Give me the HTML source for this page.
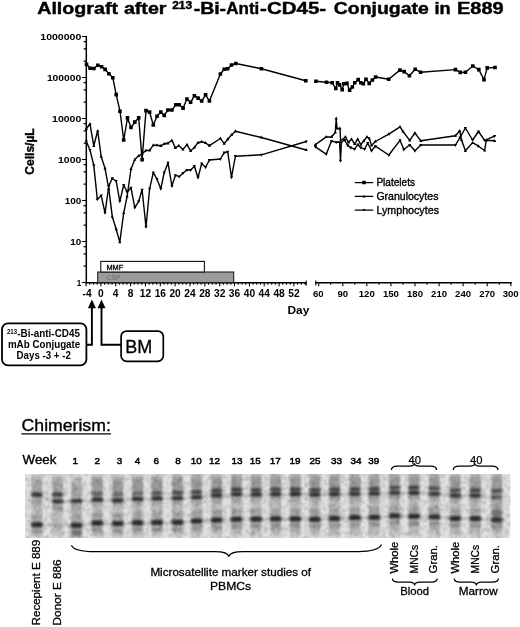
<!DOCTYPE html>
<html lang="en"><head><meta charset="utf-8"><title>Allograft after 213-Bi-Anti-CD45 Conjugate in E889</title>
<style>html,body{margin:0;padding:0;background:#fff}svg{display:block}text{font-family:"Liberation Sans",Arial,Helvetica,sans-serif;fill:#000}.b{font-weight:bold}</style></head><body>
<svg width="520" height="627" viewBox="0 0 520 627">
<rect width="520" height="627" fill="#fff"/>
<defs>
<filter id="bl" x="-20%" y="-60%" width="140%" height="220%"><feGaussianBlur stdDeviation="1.6 1.25"/></filter>
<filter id="bl2" x="-30%" y="-10%" width="160%" height="120%"><feGaussianBlur stdDeviation="1.3 2.5"/></filter>
<filter id="soft"><feGaussianBlur stdDeviation="0.35"/></filter>
<filter id="grain" x="0" y="0" width="100%" height="100%"><feTurbulence type="fractalNoise" baseFrequency="0.22" numOctaves="2" seed="7" result="n"/><feColorMatrix in="n" type="matrix" values="0 0 0 0 0  0 0 0 0 0  0 0 0 0 0  1.6 1.6 0 0 -1.35"/></filter>
<clipPath id="gelclip"><rect x="25" y="474" width="485.5" height="64"/></clipPath>
</defs>
<g class="b" font-size="17.4" stroke="#000" stroke-width="0.45" filter="url(#soft)">
<text x="37.2" y="14.2" textLength="80.8" lengthAdjust="spacingAndGlyphs">Allograft</text>
<text x="123.9" y="14.2" textLength="42.6" lengthAdjust="spacingAndGlyphs">after</text>
<text x="172.2" y="9.1" font-size="11.2" textLength="20" lengthAdjust="spacingAndGlyphs">213</text>
<text x="193.7" y="14.2" textLength="32.4" lengthAdjust="spacingAndGlyphs">-Bi-</text>
<text x="226.3" y="14.2" textLength="33" lengthAdjust="spacingAndGlyphs">Anti</text>
<text x="260.1" y="14.2" textLength="66" lengthAdjust="spacingAndGlyphs">-CD45-</text>
<text x="333.8" y="14.2" textLength="95" lengthAdjust="spacingAndGlyphs">Conjugate</text>
<text x="434.4" y="14.2" textLength="16.2" lengthAdjust="spacingAndGlyphs">in</text>
<text x="457" y="14.2" textLength="46.6" lengthAdjust="spacingAndGlyphs">E889</text>
</g>
<g id="chart" filter="url(#soft)">
<g stroke="#000" stroke-width="1.5" fill="none" stroke-linecap="butt">
<path d="M86.3 35.9V283.4"/>
<path d="M81.9 36.5H86.3M83.6 41.6H86.3M83.6 48.8H86.3M83.6 61.2H86.3M81.9 77.5H86.3M83.6 82.6H86.3M83.6 89.8H86.3M83.6 102.2H86.3M81.9 118.5H86.3M83.6 123.6H86.3M83.6 130.8H86.3M83.6 143.2H86.3M81.9 159.5H86.3M83.6 164.6H86.3M83.6 171.8H86.3M83.6 184.2H86.3M81.9 200.5H86.3M83.6 205.6H86.3M83.6 212.8H86.3M83.6 225.2H86.3M81.9 241.5H86.3M83.6 246.6H86.3M83.6 253.8H86.3M83.6 266.2H86.3M81.9 282.5H86.3" stroke-width="1.2"/>
<path d="M85.7 282.8H306.5"/>
<path d="M86.1 282.8v3.4M89.8 282.8v2.0M93.5 282.8v2.0M97.2 282.8v2.0M100.9 282.8v3.4M104.6 282.8v2.0M108.3 282.8v2.0M112.0 282.8v2.0M115.7 282.8v3.4M119.5 282.8v2.0M123.2 282.8v2.0M126.9 282.8v2.0M130.6 282.8v3.4M134.3 282.8v2.0M138.0 282.8v2.0M141.7 282.8v2.0M145.4 282.8v3.4M149.2 282.8v2.0M152.9 282.8v2.0M156.6 282.8v2.0M160.3 282.8v3.4M164.0 282.8v2.0M167.7 282.8v2.0M171.4 282.8v2.0M175.1 282.8v3.4M178.9 282.8v2.0M182.6 282.8v2.0M186.3 282.8v2.0M190.0 282.8v3.4M193.7 282.8v2.0M197.4 282.8v2.0M201.1 282.8v2.0M204.8 282.8v3.4M208.5 282.8v2.0M212.3 282.8v2.0M216.0 282.8v2.0M219.7 282.8v3.4M223.4 282.8v2.0M227.1 282.8v2.0M230.8 282.8v2.0M234.5 282.8v3.4M238.2 282.8v2.0M242.0 282.8v2.0M245.7 282.8v2.0M249.4 282.8v3.4M253.1 282.8v2.0M256.8 282.8v2.0M260.5 282.8v2.0M264.2 282.8v3.4M267.9 282.8v2.0M271.7 282.8v2.0M275.4 282.8v2.0M279.1 282.8v3.4M282.8 282.8v2.0M286.5 282.8v2.0M290.2 282.8v2.0M293.9 282.8v3.4M297.6 282.8v2.0M301.3 282.8v2.0M305.1 282.8v2.0M306.2 280.6v5" stroke-width="1.1"/>
<path d="M315.2 282.8H511.9"/>
<path d="M315.8 280.6v5M318.7 282.8v3.4M330.7 282.8v2.0M342.8 282.8v3.4M354.8 282.8v2.0M366.8 282.8v3.4M378.9 282.8v2.0M390.9 282.8v3.4M403.0 282.8v2.0M415.0 282.8v3.4M427.0 282.8v2.0M439.1 282.8v3.4M451.1 282.8v2.0M463.1 282.8v3.4M475.2 282.8v2.0M487.2 282.8v3.4M499.3 282.8v2.0M510.8 282.8v3.4" stroke-width="1.1"/>
</g>
<g class="b" font-size="9.9">
<text x="40.3" y="39.5" textLength="41.0" lengthAdjust="spacingAndGlyphs">1000000</text>
<text x="46.9" y="80.5" textLength="34.4" lengthAdjust="spacingAndGlyphs">100000</text>
<text x="52.1" y="121.5" textLength="29.2" lengthAdjust="spacingAndGlyphs">10000</text>
<text x="58.0" y="162.5" textLength="23.3" lengthAdjust="spacingAndGlyphs">1000</text>
<text x="64.7" y="203.5" textLength="16.6" lengthAdjust="spacingAndGlyphs">100</text>
<text x="70.3" y="244.5" textLength="11.0" lengthAdjust="spacingAndGlyphs">10</text>
<text x="76.7" y="285.5" textLength="4.6" lengthAdjust="spacingAndGlyphs">1</text>
</g>
<g class="b" font-size="10.2" text-anchor="middle">
<text x="87.1" y="296.5">-4</text>
<text x="100.9" y="296.5">0</text>
<text x="115.7" y="296.5">4</text>
<text x="130.6" y="296.5">8</text>
<text x="145.4" y="296.5">12</text>
<text x="160.3" y="296.5">16</text>
<text x="175.1" y="296.5">20</text>
<text x="190.0" y="296.5">24</text>
<text x="204.8" y="296.5">28</text>
<text x="219.7" y="296.5">32</text>
<text x="234.5" y="296.5">36</text>
<text x="249.4" y="296.5">40</text>
<text x="264.2" y="296.5">44</text>
<text x="279.1" y="296.5">48</text>
<text x="293.9" y="296.5">52</text>
</g>
<g class="b" font-size="9.6" text-anchor="middle">
<text x="318.3" y="296.5">60</text>
<text x="342.8" y="296.5">90</text>
<text x="366.8" y="296.5">120</text>
<text x="390.9" y="296.5">150</text>
<text x="415.0" y="296.5">180</text>
<text x="439.1" y="296.5">210</text>
<text x="463.1" y="296.5">240</text>
<text x="487.2" y="296.5">270</text>
<text x="510.7" y="296.5">300</text>
</g>
<text class="b" x="287.5" y="314.3" font-size="11.8" textLength="21.8" lengthAdjust="spacingAndGlyphs">Day</text>
<text class="b" font-size="12" text-anchor="middle" transform="translate(34.4 151.5) rotate(-90)" stroke="#000" stroke-width="0.35">Cells/µL</text>
<rect x="97.7" y="272" width="136" height="10.6" fill="#9b9b9b" stroke="#222" stroke-width="1.1"/>
<rect x="100.8" y="261.4" width="103.6" height="10.6" fill="#fff" stroke="#111" stroke-width="1.1"/>
<text x="106.4" y="269.6" font-size="7" textLength="16.8" lengthAdjust="spacingAndGlyphs" stroke="#000" stroke-width="0.3">MMF</text>
<text x="106.4" y="280" font-size="7" style="fill:#6c6c6c" textLength="14.4" lengthAdjust="spacingAndGlyphs">CSP</text>
<g fill="none" stroke="#000" stroke-width="1.4" stroke-linejoin="round" stroke-linecap="round">
<polyline points="86.5,64.2 90.1,68.3 93.9,68.5 97.8,65.2 101.6,66.8 105.1,69.4 108.9,73.8 112.8,77.7 116.2,94.6 120.0,111.2 123.7,140.0 127.5,117.9 131.0,127.5 134.8,122.1 138.7,117.9 142.1,159.6 146.0,110.6 149.6,112.1 153.3,125.0 157.0,116.3 160.8,112.0 164.2,115.4 167.9,110.0 171.9,110.0 175.8,104.8 179.2,104.8 183.1,108.1 186.9,99.0 190.6,102.3 194.4,95.8 198.1,98.1 201.7,101.0 205.6,94.8 209.4,101.0 220.4,74.0 224.2,69.2 227.7,68.8 231.5,65.0 235.8,63.5 261.4,68.7 305.8,80.8"/>
<polyline points="315.9,81.3 326.5,82.2 332.2,82.8 335.8,88.5 337.5,82.8 339.6,84.9 342.2,89.8 343.8,83.8 347.0,83.4 349.6,90.2 352.3,87.0 354.8,82.8 358.2,79.6 360.8,82.8 363.3,83.8 366.0,79.2 369.2,83.4 372.4,80.0 375.6,77.0 388.7,79.2 399.9,70.1 404.1,71.6 409.4,75.8 415.2,69.3 420.6,72.2 455.5,69.6 460.3,72.4 465.4,72.2 472.8,66.0 478.8,69.6 484.0,79.6 487.2,67.9 495.0,67.5"/>
<polyline points="86.3,128.8 90.0,124.0 93.8,145.8 97.7,130.8 101.2,156.7 105.0,168.3 108.8,188.8 112.3,216.7 116.2,229.2 119.8,242.1 123.7,212.9 127.1,196.5 131.0,169.0 134.8,159.6 138.7,155.8 142.1,153.8 146.0,150.4 149.6,150.4 153.3,145.2 157.0,145.2 160.8,145.8 164.2,143.8 167.9,143.3 171.9,140.4 175.4,148.0 178.7,145.6 183.0,149.4 187.0,144.6 190.6,150.8 194.4,147.5 198.0,142.7 201.7,141.7 205.6,143.0 209.4,145.6 220.4,138.5 224.2,143.7 227.7,139.2 231.5,135.0 235.4,131.2 261.4,137.5 306.2,150.0"/>
<polyline points="315.4,144.6 326.2,136.9 331.5,137.0 335.3,132.3 336.2,118.5 337.0,128.5 340.0,128.5 340.6,141.0 345.4,137.0 348.5,142.3 351.5,139.2 354.6,143.8 357.7,139.2 360.8,144.6 363.8,140.8 367.0,137.0 369.2,138.5 371.5,145.4 375.4,141.5 388.8,134.2 400.0,126.9 403.0,131.5 409.7,140.3 414.9,133.0 420.8,140.8 455.4,135.7 459.7,130.8 461.5,140.0 465.4,150.8 472.6,142.6 478.5,146.2 484.6,150.5 486.2,140.3 494.6,140.8"/>
<polyline points="86.3,141.3 90.0,150.0 93.8,165.4 97.3,199.4 101.2,195.6 105.0,212.9 108.8,186.0 112.3,178.3 116.2,181.2 119.8,201.3 123.7,185.0 127.1,192.0 131.0,187.9 134.8,207.7 138.7,201.3 142.1,189.8 146.0,226.9 149.6,188.8 153.3,172.5 157.0,179.2 160.8,188.8 164.2,172.5 168.0,162.9 171.9,186.0 175.4,175.4 179.2,176.7 183.0,173.0 187.0,170.0 190.6,170.0 194.4,166.2 198.0,177.7 201.7,163.5 205.6,167.3 209.4,160.0 220.4,159.0 224.2,152.7 227.7,151.9 231.5,177.3 235.4,156.2 261.4,154.8 306.2,141.5"/>
<polyline points="315.4,146.8 326.2,154.2 331.5,141.0 336.2,142.3 339.6,142.0 340.5,160.8 341.4,142.3 344.6,140.0 347.7,145.4 350.8,147.7 354.6,149.2 357.7,144.6 360.8,147.7 364.6,149.2 367.7,143.0 371.5,150.8 375.4,146.2 388.8,155.0 400.0,140.3 403.8,149.5 409.7,145.0 414.9,150.8 420.8,145.0 455.4,145.0 460.0,137.7 465.4,128.0 472.6,140.0 478.5,131.5 484.6,140.3 494.6,136.2"/>
</g>
<path d="M84.7 62.4h3.6v3.6h-3.6zM88.3 66.5h3.6v3.6h-3.6zM92.1 66.7h3.6v3.6h-3.6zM96.0 63.4h3.6v3.6h-3.6zM99.8 65.0h3.6v3.6h-3.6zM103.3 67.6h3.6v3.6h-3.6zM107.1 72.0h3.6v3.6h-3.6zM111.0 75.9h3.6v3.6h-3.6zM114.4 92.8h3.6v3.6h-3.6zM118.2 109.4h3.6v3.6h-3.6zM121.9 138.2h3.6v3.6h-3.6zM125.7 116.1h3.6v3.6h-3.6zM129.2 125.7h3.6v3.6h-3.6zM133.0 120.3h3.6v3.6h-3.6zM136.9 116.1h3.6v3.6h-3.6zM140.3 157.8h3.6v3.6h-3.6zM144.2 108.8h3.6v3.6h-3.6zM147.8 110.3h3.6v3.6h-3.6zM151.5 123.2h3.6v3.6h-3.6zM155.2 114.5h3.6v3.6h-3.6zM159.0 110.2h3.6v3.6h-3.6zM162.4 113.6h3.6v3.6h-3.6zM166.1 108.2h3.6v3.6h-3.6zM170.1 108.2h3.6v3.6h-3.6zM174.0 103.0h3.6v3.6h-3.6zM177.4 103.0h3.6v3.6h-3.6zM181.3 106.3h3.6v3.6h-3.6zM185.1 97.2h3.6v3.6h-3.6zM188.8 100.5h3.6v3.6h-3.6zM192.6 94.0h3.6v3.6h-3.6zM196.3 96.3h3.6v3.6h-3.6zM199.9 99.2h3.6v3.6h-3.6zM203.8 93.0h3.6v3.6h-3.6zM207.6 99.2h3.6v3.6h-3.6zM218.6 72.2h3.6v3.6h-3.6zM222.4 67.4h3.6v3.6h-3.6zM225.9 67.0h3.6v3.6h-3.6zM229.7 63.2h3.6v3.6h-3.6zM234.0 61.7h3.6v3.6h-3.6zM259.6 66.9h3.6v3.6h-3.6zM304.0 79.0h3.6v3.6h-3.6zM314.1 79.5h3.6v3.6h-3.6zM324.7 80.4h3.6v3.6h-3.6zM330.4 81.0h3.6v3.6h-3.6zM334.0 86.7h3.6v3.6h-3.6zM335.7 81.0h3.6v3.6h-3.6zM337.8 83.1h3.6v3.6h-3.6zM340.4 88.0h3.6v3.6h-3.6zM342.0 82.0h3.6v3.6h-3.6zM345.2 81.6h3.6v3.6h-3.6zM347.8 88.4h3.6v3.6h-3.6zM350.5 85.2h3.6v3.6h-3.6zM353.0 81.0h3.6v3.6h-3.6zM356.4 77.8h3.6v3.6h-3.6zM359.0 81.0h3.6v3.6h-3.6zM361.5 82.0h3.6v3.6h-3.6zM364.2 77.4h3.6v3.6h-3.6zM367.4 81.6h3.6v3.6h-3.6zM370.6 78.2h3.6v3.6h-3.6zM373.8 75.2h3.6v3.6h-3.6zM386.9 77.4h3.6v3.6h-3.6zM398.1 68.3h3.6v3.6h-3.6zM402.3 69.8h3.6v3.6h-3.6zM407.6 74.0h3.6v3.6h-3.6zM413.4 67.5h3.6v3.6h-3.6zM418.8 70.4h3.6v3.6h-3.6zM453.7 67.8h3.6v3.6h-3.6zM458.5 70.6h3.6v3.6h-3.6zM463.6 70.4h3.6v3.6h-3.6zM471.0 64.2h3.6v3.6h-3.6zM477.0 67.8h3.6v3.6h-3.6zM482.2 77.8h3.6v3.6h-3.6zM485.4 66.1h3.6v3.6h-3.6zM493.2 65.7h3.6v3.6h-3.6z" fill="#000"/>
<path d="M86.3 126.9l1.6 3.0h-3.2zM90.0 122.1l1.6 3.0h-3.2zM93.8 143.9l1.6 3.0h-3.2zM97.7 128.9l1.6 3.0h-3.2zM101.2 154.8l1.6 3.0h-3.2zM105.0 166.4l1.6 3.0h-3.2zM108.8 186.9l1.6 3.0h-3.2zM112.3 214.8l1.6 3.0h-3.2zM116.2 227.3l1.6 3.0h-3.2zM119.8 240.2l1.6 3.0h-3.2zM123.7 211.0l1.6 3.0h-3.2zM127.1 194.6l1.6 3.0h-3.2zM131.0 167.1l1.6 3.0h-3.2zM134.8 157.7l1.6 3.0h-3.2zM138.7 153.9l1.6 3.0h-3.2zM142.1 151.9l1.6 3.0h-3.2zM146.0 148.5l1.6 3.0h-3.2zM149.6 148.5l1.6 3.0h-3.2zM153.3 143.3l1.6 3.0h-3.2zM157.0 143.3l1.6 3.0h-3.2zM160.8 143.9l1.6 3.0h-3.2zM164.2 141.9l1.6 3.0h-3.2zM167.9 141.4l1.6 3.0h-3.2zM171.9 138.5l1.6 3.0h-3.2zM175.4 146.1l1.6 3.0h-3.2zM178.7 143.7l1.6 3.0h-3.2zM183.0 147.5l1.6 3.0h-3.2zM187.0 142.7l1.6 3.0h-3.2zM190.6 148.9l1.6 3.0h-3.2zM194.4 145.6l1.6 3.0h-3.2zM198.0 140.8l1.6 3.0h-3.2zM201.7 139.8l1.6 3.0h-3.2zM205.6 141.1l1.6 3.0h-3.2zM209.4 143.7l1.6 3.0h-3.2zM220.4 136.6l1.6 3.0h-3.2zM224.2 141.8l1.6 3.0h-3.2zM227.7 137.3l1.6 3.0h-3.2zM231.5 133.1l1.6 3.0h-3.2zM235.4 129.3l1.6 3.0h-3.2zM261.4 135.6l1.6 3.0h-3.2zM306.2 148.1l1.6 3.0h-3.2zM315.4 142.7l1.6 3.0h-3.2zM326.2 135.0l1.6 3.0h-3.2zM331.5 135.1l1.6 3.0h-3.2zM335.3 130.4l1.6 3.0h-3.2zM336.2 116.6l1.6 3.0h-3.2zM337.0 126.6l1.6 3.0h-3.2zM340.0 126.6l1.6 3.0h-3.2zM340.6 139.1l1.6 3.0h-3.2zM345.4 135.1l1.6 3.0h-3.2zM348.5 140.4l1.6 3.0h-3.2zM351.5 137.3l1.6 3.0h-3.2zM354.6 141.9l1.6 3.0h-3.2zM357.7 137.3l1.6 3.0h-3.2zM360.8 142.7l1.6 3.0h-3.2zM363.8 138.9l1.6 3.0h-3.2zM367.0 135.1l1.6 3.0h-3.2zM369.2 136.6l1.6 3.0h-3.2zM371.5 143.5l1.6 3.0h-3.2zM375.4 139.6l1.6 3.0h-3.2zM388.8 132.3l1.6 3.0h-3.2zM400.0 125.0l1.6 3.0h-3.2zM403.0 129.6l1.6 3.0h-3.2zM409.7 138.4l1.6 3.0h-3.2zM414.9 131.1l1.6 3.0h-3.2zM420.8 138.9l1.6 3.0h-3.2zM455.4 133.8l1.6 3.0h-3.2zM459.7 128.9l1.6 3.0h-3.2zM461.5 138.1l1.6 3.0h-3.2zM465.4 148.9l1.6 3.0h-3.2zM472.6 140.7l1.6 3.0h-3.2zM478.5 144.3l1.6 3.0h-3.2zM484.6 148.6l1.6 3.0h-3.2zM486.2 138.4l1.6 3.0h-3.2zM494.6 138.9l1.6 3.0h-3.2zM86.3 143.2l1.6 -3.0h-3.2zM90.0 151.9l1.6 -3.0h-3.2zM93.8 167.3l1.6 -3.0h-3.2zM97.3 201.3l1.6 -3.0h-3.2zM101.2 197.5l1.6 -3.0h-3.2zM105.0 214.8l1.6 -3.0h-3.2zM108.8 187.9l1.6 -3.0h-3.2zM112.3 180.2l1.6 -3.0h-3.2zM116.2 183.1l1.6 -3.0h-3.2zM119.8 203.2l1.6 -3.0h-3.2zM123.7 186.9l1.6 -3.0h-3.2zM127.1 193.9l1.6 -3.0h-3.2zM131.0 189.8l1.6 -3.0h-3.2zM134.8 209.6l1.6 -3.0h-3.2zM138.7 203.2l1.6 -3.0h-3.2zM142.1 191.7l1.6 -3.0h-3.2zM146.0 228.8l1.6 -3.0h-3.2zM149.6 190.7l1.6 -3.0h-3.2zM153.3 174.4l1.6 -3.0h-3.2zM157.0 181.1l1.6 -3.0h-3.2zM160.8 190.7l1.6 -3.0h-3.2zM164.2 174.4l1.6 -3.0h-3.2zM168.0 164.8l1.6 -3.0h-3.2zM171.9 187.9l1.6 -3.0h-3.2zM175.4 177.3l1.6 -3.0h-3.2zM179.2 178.6l1.6 -3.0h-3.2zM183.0 174.9l1.6 -3.0h-3.2zM187.0 171.9l1.6 -3.0h-3.2zM190.6 171.9l1.6 -3.0h-3.2zM194.4 168.1l1.6 -3.0h-3.2zM198.0 179.6l1.6 -3.0h-3.2zM201.7 165.4l1.6 -3.0h-3.2zM205.6 169.2l1.6 -3.0h-3.2zM209.4 161.9l1.6 -3.0h-3.2zM220.4 160.9l1.6 -3.0h-3.2zM224.2 154.6l1.6 -3.0h-3.2zM227.7 153.8l1.6 -3.0h-3.2zM231.5 179.2l1.6 -3.0h-3.2zM235.4 158.1l1.6 -3.0h-3.2zM261.4 156.7l1.6 -3.0h-3.2zM306.2 143.4l1.6 -3.0h-3.2zM315.4 148.7l1.6 -3.0h-3.2zM326.2 156.1l1.6 -3.0h-3.2zM331.5 142.9l1.6 -3.0h-3.2zM336.2 144.2l1.6 -3.0h-3.2zM339.6 143.9l1.6 -3.0h-3.2zM340.5 162.7l1.6 -3.0h-3.2zM341.4 144.2l1.6 -3.0h-3.2zM344.6 141.9l1.6 -3.0h-3.2zM347.7 147.3l1.6 -3.0h-3.2zM350.8 149.6l1.6 -3.0h-3.2zM354.6 151.1l1.6 -3.0h-3.2zM357.7 146.5l1.6 -3.0h-3.2zM360.8 149.6l1.6 -3.0h-3.2zM364.6 151.1l1.6 -3.0h-3.2zM367.7 144.9l1.6 -3.0h-3.2zM371.5 152.7l1.6 -3.0h-3.2zM375.4 148.1l1.6 -3.0h-3.2zM388.8 156.9l1.6 -3.0h-3.2zM400.0 142.2l1.6 -3.0h-3.2zM403.8 151.4l1.6 -3.0h-3.2zM409.7 146.9l1.6 -3.0h-3.2zM414.9 152.7l1.6 -3.0h-3.2zM420.8 146.9l1.6 -3.0h-3.2zM455.4 146.9l1.6 -3.0h-3.2zM460.0 139.6l1.6 -3.0h-3.2zM465.4 129.9l1.6 -3.0h-3.2zM472.6 141.9l1.6 -3.0h-3.2zM478.5 133.4l1.6 -3.0h-3.2zM484.6 142.2l1.6 -3.0h-3.2zM494.6 138.1l1.6 -3.0h-3.2z" fill="#000"/>
<g stroke="#000" stroke-width="1.25"><path d="M354.8 182.5h18.4M354.8 196.4h18.4M354.8 210h18.4"/></g>
<path d="M362.3 180.8h3.4v3.4h-3.4zM364 194.8l1.5 2.7h-3zM364 211.6l1.5 -2.7h-3z" fill="#000"/>
<text x="376.4" y="186" font-size="10.4" textLength="38.6" lengthAdjust="spacingAndGlyphs" stroke="#000" stroke-width="0.35">Platelets</text>
<text x="376.4" y="199.9" font-size="10.4" textLength="62" lengthAdjust="spacingAndGlyphs" stroke="#000" stroke-width="0.35">Granulocytes</text>
<text x="376.4" y="213.5" font-size="10.4" textLength="62.6" lengthAdjust="spacingAndGlyphs" stroke="#000" stroke-width="0.35">Lymphocytes</text>
<rect x="2" y="323.3" width="84.4" height="42" rx="6" ry="6" fill="#fff" stroke="#000" stroke-width="1.8"/>
<g class="b" font-size="10.3">
<text x="7" y="334.2" font-size="7.2" textLength="10" lengthAdjust="spacingAndGlyphs">213</text>
<text x="17.3" y="337.2" textLength="62.6" lengthAdjust="spacingAndGlyphs">-Bi-anti-CD45</text>
<text x="7.9" y="347.8" textLength="72.4" lengthAdjust="spacingAndGlyphs">mAb Conjugate</text>
<text x="16.6" y="358.8" textLength="54.2" lengthAdjust="spacingAndGlyphs">Days -3 + -2</text>
</g>
<g stroke="#000" stroke-width="1.9" fill="none" stroke-linejoin="miter"><path d="M86.5 344.8H91.9V306"/><path d="M121.2 344.8H101.5V306"/></g>
<path d="M91.9 299.4l4 8.8h-8zM101.5 299.4l4 8.8h-8z" fill="#000"/>
<rect x="121.1" y="331.1" width="42.2" height="30.2" rx="5.5" ry="5.5" fill="#fff" stroke="#000" stroke-width="1.7"/>
<text x="125.2" y="353" font-size="17.6" textLength="27" lengthAdjust="spacingAndGlyphs" stroke="#000" stroke-width="0.3">BM</text>
</g>
<g id="chim" filter="url(#soft)">
<text x="21.6" y="430.9" font-size="16.4" textLength="89.2" lengthAdjust="spacingAndGlyphs" stroke="#000" stroke-width="0.35">Chimerism:</text>
<path d="M21.4 433.9H111" stroke="#000" stroke-width="1.3"/>
<text x="22.6" y="463.6" font-size="12.2" textLength="33.8" lengthAdjust="spacingAndGlyphs" stroke="#000" stroke-width="0.35">Week</text>
<g font-size="9.9" text-anchor="middle" stroke="#000" stroke-width="0.5">
<text x="75.3" y="463.8">1</text>
<text x="97.2" y="463.8">2</text>
<text x="119.6" y="463.8">3</text>
<text x="137.5" y="463.8">4</text>
<text x="156.2" y="463.8">6</text>
<text x="178.0" y="463.8">8</text>
<text x="196.2" y="463.8">10</text>
<text x="214.6" y="463.8">12</text>
<text x="237.0" y="463.8">13</text>
<text x="255.3" y="463.8">15</text>
<text x="275.3" y="463.8">17</text>
<text x="295.0" y="463.8">19</text>
<text x="315.0" y="463.8">25</text>
<text x="336.5" y="463.8">33</text>
<text x="356.0" y="463.8">34</text>
<text x="373.8" y="463.8">39</text>
</g>
<text x="414.7" y="463.8" font-size="11.2" text-anchor="middle" stroke="#000" stroke-width="0.25">40</text>
<text x="476.2" y="463.8" font-size="11.2" text-anchor="middle" stroke="#000" stroke-width="0.25">40</text>
<g fill="none" stroke="#000" stroke-width="1.25">
<path d="M391.4 470.0C391.4 467.2 393.4 466.0 397.4 466.0H409.5C412.5 466.0 414.5 464.6 414.5 463.2C414.5 464.6 416.5 466.0 419.5 466.0H430.6C434.6 466.0 436.6 467.2 436.6 470.0"/>
<path d="M453.2 470.0C453.2 467.2 455.2 466.0 459.2 466.0H469.8C472.8 466.0 474.8 464.6 474.8 463.2C474.8 464.6 476.8 466.0 479.8 466.0H492.0C496.0 466.0 498.0 467.2 498.0 470.0"/>
<path d="M71.4 545.2C73 549 80 551.6 95 551.6H215C223 551.6 228 553 228.8 556.6C229.6 553 234 551.6 243 551.6H358C372 551.6 379.5 549 381.6 544.6"/>
<path d="M392.4 578.4C392.4 580.9 394.4 582.0 398.4 582.0H409.6C412.6 582.0 414.6 583.7 414.6 585.4C414.6 583.7 416.6 582.0 419.6 582.0H431.2C435.2 582.0 437.2 580.9 437.2 578.4"/>
<path d="M454.2 578.4C454.2 580.9 456.2 582.0 460.2 582.0H471.4C474.4 582.0 476.4 583.7 476.4 585.4C476.4 583.7 478.4 582.0 481.4 582.0H492.4C496.4 582.0 498.4 580.9 498.4 578.4"/>
</g>
<g clip-path="url(#gelclip)">
<rect x="25" y="474" width="485.5" height="64" fill="#e0e0e0"/>
<g filter="url(#bl2)" fill="#000">
<rect x="31.5" y="476" width="10.8" height="60" opacity="0.15"/>
<rect x="31.5" y="477.7" width="10.8" height="28" opacity="0.13"/>
<rect x="31.5" y="515.8" width="10.8" height="20" opacity="0.12"/>
<rect x="52.2" y="476" width="10.8" height="60" opacity="0.15"/>
<rect x="52.2" y="477.5" width="10.8" height="28" opacity="0.13"/>
<rect x="71.1" y="476" width="10.8" height="60" opacity="0.15"/>
<rect x="71.1" y="483.8" width="10.8" height="28" opacity="0.13"/>
<rect x="71.1" y="516.2" width="10.8" height="20" opacity="0.12"/>
<rect x="71.1" y="524.5" width="10.8" height="20" opacity="0.12"/>
<rect x="91.8" y="476" width="10.8" height="60" opacity="0.15"/>
<rect x="91.8" y="476.7" width="10.8" height="28" opacity="0.18"/>
<rect x="91.8" y="514.1" width="10.8" height="20" opacity="0.12"/>
<rect x="112.3" y="476" width="10.8" height="60" opacity="0.15"/>
<rect x="112.3" y="477.1" width="10.8" height="28" opacity="0.18"/>
<rect x="112.3" y="514.5" width="10.8" height="20" opacity="0.12"/>
<rect x="132.2" y="476" width="10.8" height="60" opacity="0.15"/>
<rect x="132.2" y="476.4" width="10.8" height="28" opacity="0.18"/>
<rect x="132.2" y="513.7" width="10.8" height="20" opacity="0.12"/>
<rect x="151.5" y="476" width="10.8" height="60" opacity="0.15"/>
<rect x="151.5" y="476.2" width="10.8" height="28" opacity="0.18"/>
<rect x="151.5" y="513.5" width="10.8" height="20" opacity="0.12"/>
<rect x="172.1" y="476" width="10.8" height="60" opacity="0.15"/>
<rect x="172.1" y="475.7" width="10.8" height="28" opacity="0.18"/>
<rect x="172.1" y="513.3" width="10.8" height="20" opacity="0.12"/>
<rect x="191.2" y="476" width="10.8" height="60" opacity="0.15"/>
<rect x="191.2" y="475.1" width="10.8" height="28" opacity="0.18"/>
<rect x="191.2" y="512.1" width="10.8" height="20" opacity="0.12"/>
<rect x="211.3" y="476" width="10.8" height="60" opacity="0.15"/>
<rect x="211.3" y="473.7" width="10.8" height="28" opacity="0.18"/>
<rect x="211.3" y="510.9" width="10.8" height="20" opacity="0.12"/>
<rect x="231.1" y="476" width="10.8" height="60" opacity="0.15"/>
<rect x="231.1" y="472.4" width="10.8" height="28" opacity="0.18"/>
<rect x="231.1" y="510.2" width="10.8" height="20" opacity="0.12"/>
<rect x="250.7" y="476" width="10.8" height="60" opacity="0.15"/>
<rect x="250.7" y="472.8" width="10.8" height="28" opacity="0.18"/>
<rect x="250.7" y="510.1" width="10.8" height="20" opacity="0.12"/>
<rect x="270.3" y="476" width="10.8" height="60" opacity="0.15"/>
<rect x="270.3" y="472.3" width="10.8" height="28" opacity="0.18"/>
<rect x="270.3" y="509.8" width="10.8" height="20" opacity="0.12"/>
<rect x="289.9" y="476" width="10.8" height="60" opacity="0.15"/>
<rect x="289.9" y="472.3" width="10.8" height="28" opacity="0.18"/>
<rect x="289.9" y="509.8" width="10.8" height="20" opacity="0.12"/>
<rect x="309.5" y="476" width="10.8" height="60" opacity="0.15"/>
<rect x="309.5" y="472.8" width="10.8" height="28" opacity="0.18"/>
<rect x="309.5" y="510.2" width="10.8" height="20" opacity="0.12"/>
<rect x="329.1" y="476" width="10.8" height="60" opacity="0.15"/>
<rect x="329.1" y="472.3" width="10.8" height="28" opacity="0.18"/>
<rect x="329.1" y="509.4" width="10.8" height="20" opacity="0.12"/>
<rect x="349.4" y="476" width="10.8" height="60" opacity="0.15"/>
<rect x="349.4" y="472.1" width="10.8" height="28" opacity="0.18"/>
<rect x="349.4" y="508.5" width="10.8" height="20" opacity="0.12"/>
<rect x="368.8" y="476" width="10.8" height="60" opacity="0.15"/>
<rect x="368.8" y="471.8" width="10.8" height="28" opacity="0.18"/>
<rect x="368.8" y="508.3" width="10.8" height="20" opacity="0.12"/>
<rect x="389.2" y="476" width="10.8" height="60" opacity="0.15"/>
<rect x="389.2" y="470.6" width="10.8" height="28" opacity="0.18"/>
<rect x="389.2" y="506.8" width="10.8" height="20" opacity="0.12"/>
<rect x="408.6" y="476" width="10.8" height="60" opacity="0.15"/>
<rect x="408.6" y="470.6" width="10.8" height="28" opacity="0.18"/>
<rect x="408.6" y="507.2" width="10.8" height="20" opacity="0.12"/>
<rect x="429.0" y="476" width="10.8" height="60" opacity="0.15"/>
<rect x="429.0" y="471.3" width="10.8" height="28" opacity="0.18"/>
<rect x="429.0" y="507.8" width="10.8" height="20" opacity="0.12"/>
<rect x="449.8" y="476" width="10.8" height="60" opacity="0.15"/>
<rect x="449.8" y="473.3" width="10.8" height="28" opacity="0.18"/>
<rect x="449.8" y="509.4" width="10.8" height="20" opacity="0.12"/>
<rect x="469.9" y="476" width="10.8" height="60" opacity="0.15"/>
<rect x="469.9" y="473.3" width="10.8" height="28" opacity="0.18"/>
<rect x="469.9" y="509.4" width="10.8" height="20" opacity="0.12"/>
<rect x="491.4" y="476" width="10.8" height="60" opacity="0.15"/>
<rect x="491.4" y="474.0" width="10.8" height="28" opacity="0.18"/>
<rect x="491.4" y="510.8" width="10.8" height="20" opacity="0.12"/>
<rect x="491.4" y="503.2" width="10.8" height="20" opacity="0.12"/>
</g>
<g filter="url(#bl)" fill="#000" opacity="0.15">
<path d="M36.9 495.7L57.6 501.9L76.5 501.3L97.2 500.1L117.7 500.8L137.6 499.3L156.9 498.8L177.5 498.6L196.6 497.6L216.7 496.0L236.5 494.7L256.1 495.0L275.7 494.5L295.3 494.5L314.9 495.0L334.5 494.4L354.8 494.2L374.2 493.9L394.6 493.2L414.0 493.2L434.4 494.3L455.2 496.0L475.3 496.0L496.8 497.7" stroke="#000" stroke-width="2.4" fill="none"/>
<path d="M36.9 524.8L76.5 525.7L97.2 523.6L117.7 524.0L137.6 523.2L156.9 523.0L177.5 522.8L196.6 521.6L216.7 520.4L236.5 519.7L256.1 519.6L275.7 519.3L295.3 519.3L314.9 519.7L334.5 518.9L354.8 518.0L374.2 517.8L394.6 516.3L414.0 516.7L434.4 517.3L455.2 518.9L475.3 518.9L496.8 520.3" stroke="#000" stroke-width="2.4" fill="none"/>
</g>
<g filter="url(#bl)" fill="#000" opacity="0.78">
<rect x="31.5" y="492.8" width="10.8" height="3.9" rx="1.4" opacity="0.85"/>
<rect x="31.1" y="522.3" width="11.6" height="5" rx="1.8" opacity="0.90"/>
<rect x="31.9" y="530.3" width="10" height="3" rx="1.4" opacity="0.18"/>
<rect x="31.9" y="514.8" width="10" height="3" rx="1.4" opacity="0.13"/>
<rect x="52.2" y="492.6" width="10.8" height="3.9" rx="1.4" opacity="0.80"/>
<rect x="52.2" y="499.4" width="10.8" height="3.9" rx="1.4" opacity="0.85"/>
<rect x="52.2" y="506.6" width="10.8" height="3.9" rx="1.4" opacity="0.25"/>
<rect x="71.1" y="498.9" width="10.8" height="3.9" rx="1.4" opacity="0.80"/>
<rect x="70.7" y="522.7" width="11.6" height="5" rx="1.8" opacity="0.85"/>
<rect x="71.5" y="530.7" width="10" height="3" rx="1.4" opacity="0.18"/>
<rect x="71.5" y="515.2" width="10" height="3" rx="1.4" opacity="0.13"/>
<rect x="70.7" y="531.0" width="11.6" height="5" rx="1.8" opacity="0.20"/>
<rect x="91.8" y="491.8" width="10.8" height="3.9" rx="1.4" opacity="0.45"/>
<rect x="91.8" y="497.7" width="10.8" height="3.9" rx="1.4" opacity="0.85"/>
<rect x="91.4" y="520.6" width="11.6" height="5" rx="1.8" opacity="0.95"/>
<rect x="92.2" y="528.6" width="10" height="3" rx="1.4" opacity="0.18"/>
<rect x="92.2" y="513.1" width="10" height="3" rx="1.4" opacity="0.13"/>
<rect x="112.3" y="492.2" width="10.8" height="3.9" rx="1.4" opacity="0.40"/>
<rect x="112.3" y="498.4" width="10.8" height="3.9" rx="1.4" opacity="0.85"/>
<rect x="111.9" y="521.0" width="11.6" height="5" rx="1.8" opacity="0.90"/>
<rect x="112.7" y="529.0" width="10" height="3" rx="1.4" opacity="0.18"/>
<rect x="112.7" y="513.5" width="10" height="3" rx="1.4" opacity="0.13"/>
<rect x="132.2" y="491.4" width="10.8" height="3.9" rx="1.4" opacity="0.40"/>
<rect x="132.2" y="496.9" width="10.8" height="3.9" rx="1.4" opacity="0.85"/>
<rect x="131.8" y="520.2" width="11.6" height="5" rx="1.8" opacity="0.90"/>
<rect x="132.6" y="528.2" width="10" height="3" rx="1.4" opacity="0.18"/>
<rect x="132.6" y="512.7" width="10" height="3" rx="1.4" opacity="0.13"/>
<rect x="151.5" y="491.2" width="10.8" height="3.9" rx="1.4" opacity="0.60"/>
<rect x="151.5" y="496.4" width="10.8" height="3.9" rx="1.4" opacity="0.80"/>
<rect x="151.1" y="520.0" width="11.6" height="5" rx="1.8" opacity="0.90"/>
<rect x="151.9" y="528.0" width="10" height="3" rx="1.4" opacity="0.18"/>
<rect x="151.9" y="512.5" width="10" height="3" rx="1.4" opacity="0.13"/>
<rect x="172.1" y="490.8" width="10.8" height="3.9" rx="1.4" opacity="0.65"/>
<rect x="172.1" y="496.2" width="10.8" height="3.9" rx="1.4" opacity="0.80"/>
<rect x="171.7" y="519.8" width="11.6" height="5" rx="1.8" opacity="0.90"/>
<rect x="172.5" y="527.8" width="10" height="3" rx="1.4" opacity="0.18"/>
<rect x="172.5" y="512.3" width="10" height="3" rx="1.4" opacity="0.13"/>
<rect x="191.2" y="490.2" width="10.8" height="3.9" rx="1.4" opacity="0.70"/>
<rect x="191.2" y="495.2" width="10.8" height="3.9" rx="1.4" opacity="0.80"/>
<rect x="190.8" y="518.6" width="11.6" height="5" rx="1.8" opacity="0.90"/>
<rect x="191.6" y="526.6" width="10" height="3" rx="1.4" opacity="0.18"/>
<rect x="191.6" y="511.1" width="10" height="3" rx="1.4" opacity="0.13"/>
<rect x="211.3" y="488.8" width="10.8" height="3.9" rx="1.4" opacity="0.70"/>
<rect x="211.3" y="493.6" width="10.8" height="3.9" rx="1.4" opacity="0.80"/>
<rect x="210.9" y="517.4" width="11.6" height="5" rx="1.8" opacity="0.90"/>
<rect x="211.7" y="525.4" width="10" height="3" rx="1.4" opacity="0.18"/>
<rect x="211.7" y="509.9" width="10" height="3" rx="1.4" opacity="0.13"/>
<rect x="231.1" y="487.5" width="10.8" height="3.9" rx="1.4" opacity="0.75"/>
<rect x="231.1" y="492.2" width="10.8" height="3.9" rx="1.4" opacity="0.80"/>
<rect x="230.7" y="516.7" width="11.6" height="5" rx="1.8" opacity="0.90"/>
<rect x="231.5" y="524.7" width="10" height="3" rx="1.4" opacity="0.18"/>
<rect x="231.5" y="509.2" width="10" height="3" rx="1.4" opacity="0.13"/>
<rect x="250.7" y="487.9" width="10.8" height="3.9" rx="1.4" opacity="0.70"/>
<rect x="250.7" y="492.6" width="10.8" height="3.9" rx="1.4" opacity="0.80"/>
<rect x="250.3" y="516.6" width="11.6" height="5" rx="1.8" opacity="0.90"/>
<rect x="251.1" y="524.6" width="10" height="3" rx="1.4" opacity="0.18"/>
<rect x="251.1" y="509.1" width="10" height="3" rx="1.4" opacity="0.13"/>
<rect x="270.3" y="487.4" width="10.8" height="3.9" rx="1.4" opacity="0.70"/>
<rect x="270.3" y="492.1" width="10.8" height="3.9" rx="1.4" opacity="0.80"/>
<rect x="269.9" y="516.3" width="11.6" height="5" rx="1.8" opacity="0.90"/>
<rect x="270.7" y="524.3" width="10" height="3" rx="1.4" opacity="0.18"/>
<rect x="270.7" y="508.8" width="10" height="3" rx="1.4" opacity="0.13"/>
<rect x="289.9" y="487.4" width="10.8" height="3.9" rx="1.4" opacity="0.75"/>
<rect x="289.9" y="492.1" width="10.8" height="3.9" rx="1.4" opacity="0.85"/>
<rect x="289.5" y="516.3" width="11.6" height="5" rx="1.8" opacity="0.90"/>
<rect x="290.3" y="524.3" width="10" height="3" rx="1.4" opacity="0.18"/>
<rect x="290.3" y="508.8" width="10" height="3" rx="1.4" opacity="0.13"/>
<rect x="309.5" y="487.9" width="10.8" height="3.9" rx="1.4" opacity="0.70"/>
<rect x="309.5" y="492.6" width="10.8" height="3.9" rx="1.4" opacity="0.80"/>
<rect x="309.1" y="516.7" width="11.6" height="5" rx="1.8" opacity="0.90"/>
<rect x="309.9" y="524.7" width="10" height="3" rx="1.4" opacity="0.18"/>
<rect x="309.9" y="509.2" width="10" height="3" rx="1.4" opacity="0.13"/>
<rect x="329.1" y="487.4" width="10.8" height="3.9" rx="1.4" opacity="0.70"/>
<rect x="329.1" y="492.0" width="10.8" height="3.9" rx="1.4" opacity="0.80"/>
<rect x="328.7" y="515.9" width="11.6" height="5" rx="1.8" opacity="0.90"/>
<rect x="329.5" y="523.9" width="10" height="3" rx="1.4" opacity="0.18"/>
<rect x="329.5" y="508.4" width="10" height="3" rx="1.4" opacity="0.13"/>
<rect x="349.4" y="487.2" width="10.8" height="3.9" rx="1.4" opacity="0.70"/>
<rect x="349.4" y="491.8" width="10.8" height="3.9" rx="1.4" opacity="0.80"/>
<rect x="349.0" y="515.0" width="11.6" height="5" rx="1.8" opacity="0.90"/>
<rect x="349.8" y="523.0" width="10" height="3" rx="1.4" opacity="0.18"/>
<rect x="349.8" y="507.5" width="10" height="3" rx="1.4" opacity="0.13"/>
<rect x="368.8" y="486.9" width="10.8" height="3.9" rx="1.4" opacity="0.70"/>
<rect x="368.8" y="491.5" width="10.8" height="3.9" rx="1.4" opacity="0.80"/>
<rect x="368.4" y="514.8" width="11.6" height="5" rx="1.8" opacity="0.90"/>
<rect x="369.2" y="522.8" width="10" height="3" rx="1.4" opacity="0.18"/>
<rect x="369.2" y="507.3" width="10" height="3" rx="1.4" opacity="0.13"/>
<rect x="389.2" y="485.7" width="10.8" height="3.9" rx="1.4" opacity="0.65"/>
<rect x="389.2" y="490.8" width="10.8" height="3.9" rx="1.4" opacity="0.75"/>
<rect x="388.8" y="513.3" width="11.6" height="5" rx="1.8" opacity="0.85"/>
<rect x="389.6" y="521.3" width="10" height="3" rx="1.4" opacity="0.18"/>
<rect x="389.6" y="505.8" width="10" height="3" rx="1.4" opacity="0.13"/>
<rect x="408.6" y="485.7" width="10.8" height="3.9" rx="1.4" opacity="0.75"/>
<rect x="408.6" y="490.8" width="10.8" height="3.9" rx="1.4" opacity="0.80"/>
<rect x="408.2" y="513.7" width="11.6" height="5" rx="1.8" opacity="0.90"/>
<rect x="409.0" y="521.7" width="10" height="3" rx="1.4" opacity="0.18"/>
<rect x="409.0" y="506.2" width="10" height="3" rx="1.4" opacity="0.13"/>
<rect x="429.0" y="486.4" width="10.8" height="3.9" rx="1.4" opacity="0.65"/>
<rect x="429.0" y="491.9" width="10.8" height="3.9" rx="1.4" opacity="0.75"/>
<rect x="428.6" y="514.3" width="11.6" height="5" rx="1.8" opacity="0.85"/>
<rect x="429.4" y="522.3" width="10" height="3" rx="1.4" opacity="0.18"/>
<rect x="429.4" y="506.8" width="10" height="3" rx="1.4" opacity="0.13"/>
<rect x="449.8" y="488.4" width="10.8" height="3.9" rx="1.4" opacity="0.65"/>
<rect x="449.8" y="493.6" width="10.8" height="3.9" rx="1.4" opacity="0.75"/>
<rect x="449.4" y="515.9" width="11.6" height="5" rx="1.8" opacity="0.90"/>
<rect x="450.2" y="523.9" width="10" height="3" rx="1.4" opacity="0.18"/>
<rect x="450.2" y="508.4" width="10" height="3" rx="1.4" opacity="0.13"/>
<rect x="469.9" y="488.4" width="10.8" height="3.9" rx="1.4" opacity="0.70"/>
<rect x="469.9" y="493.6" width="10.8" height="3.9" rx="1.4" opacity="0.80"/>
<rect x="469.5" y="515.9" width="11.6" height="5" rx="1.8" opacity="0.90"/>
<rect x="470.3" y="523.9" width="10" height="3" rx="1.4" opacity="0.18"/>
<rect x="470.3" y="508.4" width="10" height="3" rx="1.4" opacity="0.13"/>
<rect x="491.4" y="489.1" width="10.8" height="3.9" rx="1.4" opacity="0.60"/>
<rect x="491.4" y="495.2" width="10.8" height="3.9" rx="1.4" opacity="0.45"/>
<rect x="491.0" y="517.3" width="11.6" height="5" rx="1.8" opacity="0.80"/>
<rect x="491.8" y="525.3" width="10" height="3" rx="1.4" opacity="0.18"/>
<rect x="491.8" y="509.8" width="10" height="3" rx="1.4" opacity="0.13"/>
<rect x="491.0" y="509.7" width="11.6" height="5" rx="1.8" opacity="0.25"/>
</g>
<rect x="25" y="474" width="485.5" height="64" filter="url(#grain)" fill="#000" opacity="0.15"/>
</g>
<g stroke="#000" stroke-width="0.3">
<text font-size="11" transform="translate(40.3 625.4) rotate(-90)" textLength="85.6" lengthAdjust="spacingAndGlyphs">Recepient E 889</text>
<text font-size="11" transform="translate(61.1 625.4) rotate(-90)" textLength="66" lengthAdjust="spacingAndGlyphs">Donor E 886</text>
<text x="150.4" y="576.4" font-size="11.2" textLength="160.6" lengthAdjust="spacingAndGlyphs">Microsatellite marker studies of</text>
<text x="210" y="590" font-size="11.2" textLength="41" lengthAdjust="spacingAndGlyphs">PBMCs</text>
<text font-size="11" transform="translate(397.8 573.4) rotate(-90)" textLength="31.6" lengthAdjust="spacingAndGlyphs">Whole</text>
<text font-size="11" transform="translate(417.6 573.4) rotate(-90)" textLength="28.6" lengthAdjust="spacingAndGlyphs">MNCs</text>
<text font-size="11" transform="translate(437.4 573.4) rotate(-90)" textLength="28.4" lengthAdjust="spacingAndGlyphs">Gran.</text>
<text font-size="11" transform="translate(459.0 573.4) rotate(-90)" textLength="31.6" lengthAdjust="spacingAndGlyphs">Whole</text>
<text font-size="11" transform="translate(478.6 573.4) rotate(-90)" textLength="28.6" lengthAdjust="spacingAndGlyphs">MNCs</text>
<text font-size="11" transform="translate(498.6 573.4) rotate(-90)" textLength="28.4" lengthAdjust="spacingAndGlyphs">Gran.</text>
<text x="400.3" y="594.9" font-size="11" textLength="28.8" lengthAdjust="spacingAndGlyphs">Blood</text>
<text x="458.8" y="594.9" font-size="11" textLength="39" lengthAdjust="spacingAndGlyphs">Marrow</text>
</g>
</g>
</svg></body></html>
